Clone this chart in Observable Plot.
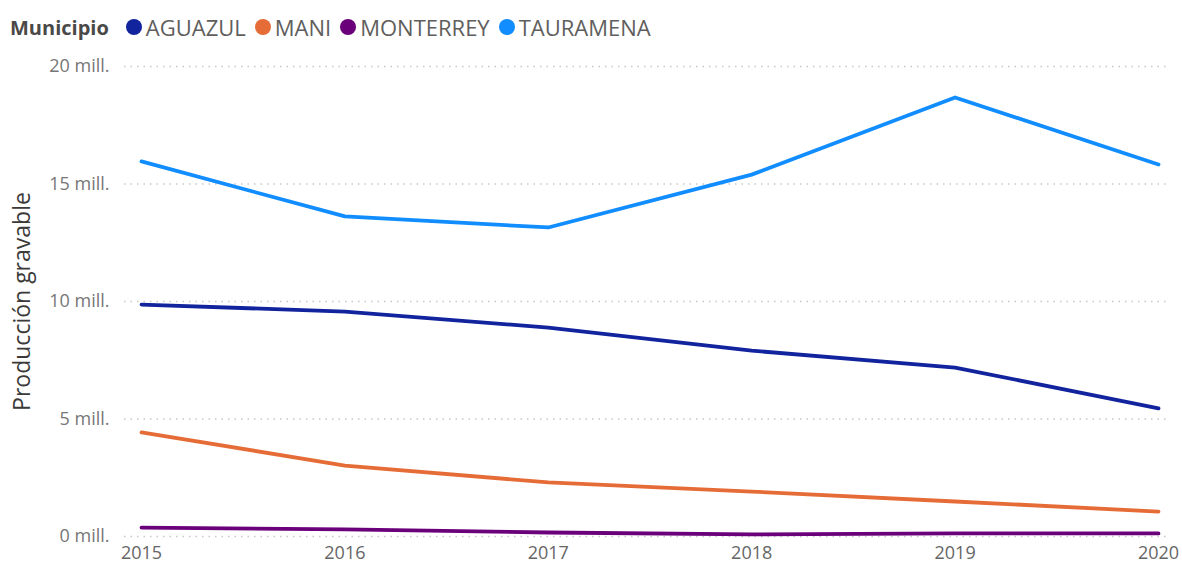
<!DOCTYPE html>
<html>
<head>
<meta charset="utf-8">
<script src="https://cdn.jsdelivr.net/npm/d3@7"></script>
<script src="https://cdn.jsdelivr.net/npm/@observablehq/plot@0.6"></script>
<style>
  html, body { margin: 0; padding: 0; background: #fff; }
  body { width: 1182px; height: 565px; overflow: hidden; font-family: "Open Sans", "Segoe UI", sans-serif; }
  #legend { height: 50px; display: flex; align-items: center; padding-left: 10px; box-sizing: border-box; padding-top: 4px; font-size: 22px; color: #605E5C; white-space: nowrap; }
  #legend .title { font-weight: 700; font-size: 20px; color: #4a4948; margin-right: 17px; }
  #legend .item { display: flex; align-items: center; margin-right: 9px; }
  #legend .dot { width: 16px; height: 16px; border-radius: 50%; margin-right: 4px; }
</style>
</head>
<body>
<div id="legend"></div>
<div id="chart"></div>
<script>
const years = [2015, 2016, 2017, 2018, 2019, 2020];
const municipios = ["AGUAZUL", "MANI", "MONTERREY", "TAURAMENA"];
const colors = ["#12239E", "#E66C37", "#6B007B", "#118DFF"];
const aguazul   = [9.87, 9.57, 8.89, 7.91, 7.19, 5.45];
const mani      = [4.43, 3.02, 2.30, 1.91, 1.49, 1.06];
const monterrey = [0.38, 0.30, 0.17, 0.09, 0.13, 0.13];
const tauramena = [15.96, 13.62, 13.15, 15.40, 18.68, 15.83];
const yTicks = [0, 5e6, 10e6, 15e6, 20e6];

const seriesValues = [aguazul, mani, monterrey, tauramena];
const data = [];
municipios.forEach((m, i) => years.forEach((y, j) => data.push({municipio: m, year: y, value: seriesValues[i][j] * 1e6})));

// legend
const leg = document.getElementById("legend");
leg.innerHTML = `<span class="title">Municipio</span>` + municipios.map((m, i) =>
  `<span class="item"><span class="dot" style="background:${colors[i]}"></span>${m}</span>`).join("");

const plot = Plot.plot({
  width: 1182,
  height: 515,
  marginTop: 16,
  marginBottom: 29,
  marginLeft: 141,
  marginRight: 24,
  style: {fontFamily: "'Open Sans', sans-serif", fontSize: "17px", color: "#777", overflow: "visible"},
  x: {domain: [2015, 2020], label: null},
  y: {domain: [0, 20e6], label: null},
  color: {domain: municipios, range: colors},
  marks: [
    Plot.ruleY(yTicks, {stroke: "#c8c8c8", strokeDasharray: "1.5,5", strokeWidth: 1.3, insetLeft: -17, insetRight: -12}),
    Plot.line(data, {x: "year", y: "value", z: "municipio", stroke: "municipio", strokeWidth: 3.8, strokeLinejoin: "round", strokeLinecap: "round"}),
    Plot.axisY({ticks: yTicks, tickFormat: d => (d / 1e6) + " mill.", tickSize: 0, tickPadding: 32, label: null, fill: "#777", fontSize: 18}),
    Plot.axisX({ticks: years, tickFormat: d => String(d), tickSize: 0, tickPadding: 10, label: null, fill: "#666", fontSize: 18}),
    Plot.text(["Producción gravable"], {frameAnchor: "left", textAnchor: "middle", dx: -119, dy: 0, rotate: -90, fontSize: 23, fill: "#3b3a39"})
  ]
});
document.getElementById("chart").appendChild(plot);
</script>
</body>
</html>
